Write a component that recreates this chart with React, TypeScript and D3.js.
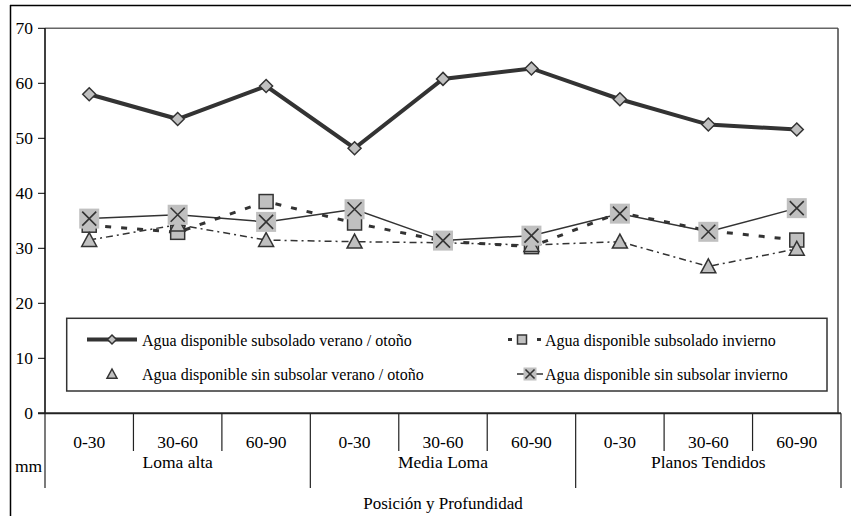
import React, { useEffect, useRef } from "react";
import * as d3 from "d3";

const categories = ["0-30", "30-60", "60-90", "0-30", "30-60", "60-90", "0-30", "30-60", "60-90"];
const groups = ["Loma alta", "Media Loma", "Planos Tendidos"];
const subsoladoVerano = [58.0, 53.5, 59.5, 48.2, 60.8, 62.7, 57.1, 52.5, 51.6];
const subsoladoInvierno = [34.2, 32.9, 38.5, 34.6, 31.3, 30.3, 36.5, 33.2, 31.5];
const sinSubsolarVerano = [31.5, 34.3, 31.5, 31.2, 31.0, 30.6, 31.2, 26.7, 29.9];
const sinSubsolarInvierno = [35.4, 36.1, 34.8, 37.1, 31.4, 32.3, 36.3, 33.0, 37.3];
const yTicks = [0, 10, 20, 30, 40, 50, 60, 70];
const seriesNames = [
  "Agua disponible subsolado verano / otoño",
  "Agua disponible subsolado invierno",
  "Agua disponible sin subsolar verano / otoño",
  "Agua disponible sin subsolar invierno",
];

const FONT = '"Liberation Serif"';
const DARK = "#333";
const GRAY = "#c0c0c0";

const App = () => {
  const ref = useRef<HTMLDivElement>(null);

  useEffect(() => {
    drawChart();
  }, []);

  const drawChart = () => {
    const width = 851,
      height = 516;
    const left = 45,
      top = 28.3,
      bottom = 413.3,
      axisRight = 841,
      plotRight = 838;

    const svg = d3
      .select(ref.current)
      .html("")
      .append("svg")
      .attr("width", width)
      .attr("height", height)
      .style("position", "absolute")
      .style("left", 0)
      .style("top", 0)
      .style("background", "#fff");

    const x = d3.scaleBand().domain(categories.map((_, i) => String(i))).range([left, axisRight]);
    const y = d3.scaleLinear().domain([0, 70]).range([bottom, top]);
    const cx = (i: number) => (x(String(i)) as number) + x.bandwidth() / 2;

    const label = (g: any, size: number) => g.style("font-family", FONT).style("font-size", `${size}px`).attr("fill", "#000");

    // outer frame
    svg.append("line").attr("x1", 10.5).attr("x2", 10.5).attr("y1", 5).attr("y2", height).attr("stroke", "#000").attr("stroke-width", 1.5);
    svg.append("line").attr("x1", 10).attr("x2", width).attr("y1", 5.5).attr("y2", 5.5).attr("stroke", "#000").attr("stroke-width", 1.5);

    // plot area border
    svg.append("line").attr("x1", left).attr("x2", plotRight).attr("y1", top).attr("y2", top).attr("stroke", "#666").attr("stroke-width", 1.5);
    svg.append("line").attr("x1", plotRight).attr("x2", plotRight).attr("y1", top).attr("y2", bottom).attr("stroke", "#444").attr("stroke-width", 1.5);

    // y axis
    const yAxis = svg.append("g");
    yAxis.append("line").attr("x1", left).attr("x2", left).attr("y1", top).attr("y2", bottom).attr("stroke", "#000").attr("stroke-width", 1.5);
    yAxis
      .selectAll("line.tick")
      .data(yTicks)
      .join("line")
      .attr("class", "tick")
      .attr("x1", 38)
      .attr("x2", left)
      .attr("y1", (d) => y(d))
      .attr("y2", (d) => y(d))
      .attr("stroke", "#000")
      .attr("stroke-width", 1);
    yAxis
      .selectAll("text")
      .data(yTicks)
      .join("text")
      .attr("x", 33)
      .attr("y", (d) => y(d))
      .attr("dy", "0.35em")
      .attr("text-anchor", "end")
      .call(label, 17.5)
      .text((d) => d);

    // x axis
    const xAxis = svg.append("g");
    xAxis.append("line").attr("x1", 38).attr("x2", axisRight).attr("y1", bottom).attr("y2", bottom).attr("stroke", "#222").attr("stroke-width", 2);
    const bounds = d3.range(categories.length + 1);
    xAxis
      .selectAll("line.sep")
      .data(bounds)
      .join("line")
      .attr("class", "sep")
      .attr("x1", (i) => left + i * x.bandwidth())
      .attr("x2", (i) => left + i * x.bandwidth())
      .attr("y1", bottom)
      .attr("y2", (i) => (i % 3 === 0 ? 488 : 451))
      .attr("stroke", "#222")
      .attr("stroke-width", 1.2);
    xAxis
      .selectAll("text.cat")
      .data(categories)
      .join("text")
      .attr("class", "cat")
      .attr("x", (_, i) => cx(i))
      .attr("y", 448)
      .attr("text-anchor", "middle")
      .call(label, 17.5)
      .text((d) => d);
    xAxis
      .selectAll("text.grp")
      .data(groups)
      .join("text")
      .attr("class", "grp")
      .attr("x", (_, i) => left + (i * 3 + 1.5) * x.bandwidth())
      .attr("y", 468)
      .attr("text-anchor", "middle")
      .call(label, 17.5)
      .text((d) => d);
    svg.append("text").attr("x", 15).attr("y", 472).call(label, 17.5).text("mm");
    svg
      .append("text")
      .attr("x", (left + axisRight) / 2)
      .attr("y", 509)
      .attr("text-anchor", "middle")
      .call(label, 17)
      .text("Posición y Profundidad");

    // lines
    const line = d3
      .line<number>()
      .x((_, i) => cx(i))
      .y((d) => y(d));

    svg.append("path").attr("d", line(subsoladoVerano)).attr("fill", "none").attr("stroke", DARK).attr("stroke-width", 4);
    svg.append("path").attr("d", line(subsoladoInvierno)).attr("fill", "none").attr("stroke", DARK).attr("stroke-width", 3).attr("stroke-dasharray", "6,10");
    svg.append("path").attr("d", line(sinSubsolarVerano)).attr("fill", "none").attr("stroke", DARK).attr("stroke-width", 1.5).attr("stroke-dasharray", "7,4,2,4");
    svg.append("path").attr("d", line(sinSubsolarInvierno)).attr("fill", "none").attr("stroke", DARK).attr("stroke-width", 1.5);

    // markers
    const diamond = (s: number) => `M0,${-s}L${s},0L0,${s}L${-s},0Z`;
    const triangle = (s: number) => `M0,${-s}L${s},${s * 0.85}L${-s},${s * 0.85}Z`;

    const drawDiamond = (g: any, px: number, py: number, s: number) =>
      g.append("path").attr("d", diamond(s)).attr("transform", `translate(${px},${py})`).attr("fill", GRAY).attr("stroke", DARK).attr("stroke-width", 1.5);
    const drawSquare = (g: any, px: number, py: number, s: number) =>
      g.append("rect").attr("x", px - s).attr("y", py - s).attr("width", 2 * s).attr("height", 2 * s).attr("fill", GRAY).attr("stroke", DARK).attr("stroke-width", 1.5);
    const drawTriangle = (g: any, px: number, py: number, s: number) =>
      g.append("path").attr("d", triangle(s)).attr("transform", `translate(${px},${py})`).attr("fill", GRAY).attr("stroke", DARK).attr("stroke-width", 1.5);
    const drawX = (g: any, px: number, py: number, s: number) => {
      g.append("rect").attr("x", px - s).attr("y", py - s).attr("width", 2 * s).attr("height", 2 * s).attr("fill", GRAY);
      const a = s * 0.7;
      g.append("path").attr("d", `M${px - a},${py - a}L${px + a},${py + a}M${px + a},${py - a}L${px - a},${py + a}`).attr("stroke", DARK).attr("stroke-width", 1.6);
    };

    const marks = svg.append("g");
    subsoladoVerano.forEach((d, i) => drawDiamond(marks, cx(i), y(d), 6.5));
    subsoladoInvierno.forEach((d, i) => drawSquare(marks, cx(i), y(d), 7));
    sinSubsolarVerano.forEach((d, i) => drawTriangle(marks, cx(i), y(d), 7.5));
    sinSubsolarInvierno.forEach((d, i) => drawX(marks, cx(i), y(d), 10));

    // legend
    const lg = svg.append("g");
    lg.append("rect").attr("x", 66.7).attr("y", 318.3).attr("width", 760.3).attr("height", 72.7).attr("fill", "#fff").attr("stroke", DARK).attr("stroke-width", 1.5);
    const row1 = 339.5,
      row2 = 374;
    lg.append("line").attr("x1", 87).attr("x2", 137).attr("y1", row1).attr("y2", row1).attr("stroke", DARK).attr("stroke-width", 4);
    drawDiamond(lg, 112, row1, 4.5);
    lg.append("line").attr("x1", 508).attr("x2", 541).attr("y1", row1).attr("y2", row1).attr("stroke", DARK).attr("stroke-width", 3).attr("stroke-dasharray", "4,25");
    drawSquare(lg, 522, row1, 4.5);
    drawTriangle(lg, 112, row2, 5);
    lg.append("line").attr("x1", 517).attr("x2", 543).attr("y1", row2).attr("y2", row2).attr("stroke", DARK).attr("stroke-width", 1.5);
    drawX(lg, 530, row2, 6.5);

    const textPos = [
      [142, 345.5],
      [545, 345.5],
      [142, 379.5],
      [545, 379.5],
    ];
    lg.selectAll("text")
      .data(seriesNames)
      .join("text")
      .attr("x", (_, i) => textPos[i][0])
      .attr("y", (_, i) => textPos[i][1])
      .call(label, 16)
      .text((d) => d);
  };

  return <div ref={ref}></div>;
};

export default App;
